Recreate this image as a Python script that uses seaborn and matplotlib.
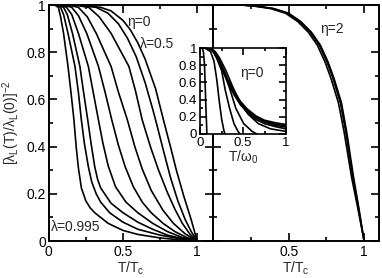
import numpy as np
import pandas as pd
import matplotlib
matplotlib.use("Agg")
import matplotlib.pyplot as plt
import seaborn as sns

# ---------------- data ----------------
# Left panel, eta = 0, curves from lambda=0.995 (index 0) to lambda=0.5 (index 8), x = T/Tc
eta0_x = [
    [0, 0.04, 0.065, 0.08, 0.10, 0.13, 0.15, 0.17, 0.185, 0.20, 0.22, 0.25, 0.28, 0.31, 0.40, 0.50, 0.60, 0.75, 0.90, 1.0],
    [0, 0.05, 0.08, 0.10, 0.13, 0.177, 0.20, 0.22, 0.24, 0.267, 0.29, 0.32, 0.35, 0.41, 0.50, 0.60, 0.75, 0.90, 1.0],
    [0, 0.06, 0.10, 0.125, 0.16, 0.21, 0.235, 0.263, 0.285, 0.31, 0.33, 0.35, 0.42, 0.50, 0.60, 0.70, 0.80, 0.90, 1.0],
    [0, 0.08, 0.12, 0.155, 0.20, 0.267, 0.30, 0.335, 0.365, 0.40, 0.45, 0.52, 0.60, 0.70, 0.80, 0.90, 1.0],
    [0, 0.10, 0.155, 0.20, 0.256, 0.335, 0.38, 0.425, 0.47, 0.515, 0.57, 0.63, 0.69, 0.77, 0.85, 0.93, 1.0],
    [0, 0.13, 0.20, 0.26, 0.32, 0.42, 0.47, 0.53, 0.58, 0.63, 0.69, 0.77, 0.84, 0.92, 1.0],
    [0, 0.17, 0.27, 0.34, 0.42, 0.54, 0.585, 0.63, 0.685, 0.74, 0.80, 0.85, 0.90, 0.95, 1.0],
    [0, 0.20, 0.32, 0.40, 0.47, 0.53, 0.59, 0.65, 0.70, 0.72, 0.77, 0.82, 0.87, 0.92, 0.96, 1.0],
    [0, 0.20, 0.35, 0.42, 0.50, 0.55, 0.60, 0.65, 0.72, 0.773, 0.82, 0.86, 0.91, 0.96, 1.0],
]
eta0_y = [
    [1, 1.0, 0.99, 0.95, 0.88, 0.74, 0.63, 0.513, 0.40, 0.31, 0.225, 0.17, 0.14, 0.12, 0.075, 0.045, 0.028, 0.013, 0.004, 0],
    [1, 1.0, 0.99, 0.96, 0.88, 0.74, 0.63, 0.513, 0.415, 0.315, 0.25, 0.20, 0.165, 0.12, 0.08, 0.05, 0.025, 0.008, 0],
    [1, 1.0, 0.99, 0.96, 0.88, 0.74, 0.63, 0.513, 0.415, 0.315, 0.26, 0.225, 0.16, 0.12, 0.08, 0.05, 0.025, 0.01, 0],
    [1, 1.0, 0.99, 0.96, 0.88, 0.74, 0.63, 0.513, 0.415, 0.32, 0.23, 0.165, 0.12, 0.075, 0.04, 0.015, 0],
    [1, 1.0, 0.99, 0.955, 0.88, 0.74, 0.63, 0.513, 0.405, 0.315, 0.23, 0.165, 0.12, 0.075, 0.04, 0.015, 0],
    [1, 1.0, 0.99, 0.95, 0.88, 0.74, 0.63, 0.513, 0.40, 0.305, 0.215, 0.13, 0.075, 0.03, 0],
    [1, 1.0, 0.99, 0.95, 0.88, 0.74, 0.635, 0.513, 0.40, 0.30, 0.205, 0.135, 0.075, 0.03, 0],
    [1, 1.0, 0.99, 0.965, 0.92, 0.86, 0.78, 0.67, 0.56, 0.513, 0.39, 0.27, 0.17, 0.09, 0.04, 0],
    [1, 1.0, 0.99, 0.975, 0.935, 0.895, 0.84, 0.77, 0.645, 0.513, 0.40, 0.30, 0.19, 0.09, 0],
]

# Right panel, eta = 2
eta2_x = [
    [0, 0.20, 0.29, 0.40, 0.50, 0.58, 0.65, 0.71, 0.76, 0.80, 0.85, 0.885, 0.93, 0.965, 1.0],
    [0, 0.195, 0.285, 0.395, 0.495, 0.574, 0.643, 0.703, 0.753, 0.793, 0.843, 0.879, 0.925, 0.962, 1.0],
    [0, 0.185, 0.275, 0.38, 0.48, 0.56, 0.63, 0.69, 0.74, 0.78, 0.83, 0.868, 0.917, 0.958, 1.0],
]
eta2_y = [
    [1, 1.0, 0.995, 0.985, 0.965, 0.93, 0.885, 0.83, 0.76, 0.69, 0.585, 0.46, 0.27, 0.14, 0],
    [1, 1.0, 0.995, 0.985, 0.965, 0.93, 0.885, 0.83, 0.76, 0.69, 0.585, 0.46, 0.27, 0.14, 0],
    [1, 1.0, 0.995, 0.985, 0.965, 0.93, 0.885, 0.83, 0.76, 0.69, 0.585, 0.46, 0.27, 0.14, 0],
]

# Inset, eta = 0, x = T/omega0
inset_x = [
    [0, 0.08, 0.12, 0.16, 0.21, 0.27, 0.33, 0.40, 0.47, 0.55, 0.65, 0.75, 0.88, 1.0],
    [0, 0.08, 0.12, 0.16, 0.21, 0.27, 0.33, 0.40, 0.47, 0.55, 0.65, 0.75, 0.88, 1.0],
    [0, 0.08, 0.12, 0.16, 0.21, 0.27, 0.33, 0.40, 0.47, 0.55, 0.65, 0.75, 0.88, 1.0],
    [0, 0.08, 0.12, 0.16, 0.21, 0.27, 0.33, 0.40, 0.47, 0.55, 0.65, 0.75, 0.88, 1.0],
    [0, 0.09, 0.14, 0.18, 0.23, 0.30, 0.38, 0.46, 0.56, 0.68, 0.82, 1.0],
    [0, 0.086, 0.132, 0.172, 0.211, 0.277, 0.35, 0.416, 0.508, 0.607, 0.66],
    [0, 0.079, 0.126, 0.158, 0.195, 0.251, 0.293, 0.344, 0.395, 0.442, 0.465],
    [0, 0.058, 0.122, 0.162, 0.194, 0.223, 0.252, 0.278, 0.29],
    [0, 0.018, 0.03, 0.04, 0.052, 0.062, 0.069, 0.077, 0.08],
]
inset_y = [
    [1, 1, 0.99, 0.96, 0.88, 0.75, 0.62, 0.49, 0.38, 0.29, 0.21, 0.16, 0.13, 0.11],
    [1, 1, 0.99, 0.96, 0.875, 0.745, 0.61, 0.48, 0.37, 0.28, 0.20, 0.15, 0.115, 0.095],
    [1, 1, 0.99, 0.955, 0.87, 0.735, 0.60, 0.47, 0.36, 0.27, 0.19, 0.14, 0.10, 0.08],
    [1, 1, 0.99, 0.95, 0.86, 0.72, 0.58, 0.45, 0.34, 0.25, 0.17, 0.12, 0.085, 0.06],
    [1, 1, 0.99, 0.955, 0.88, 0.74, 0.55, 0.38, 0.23, 0.12, 0.06, 0.03],
    [1, 1, 0.99, 0.95, 0.88, 0.74, 0.513, 0.30, 0.12, 0.03, 0],
    [1, 1, 0.99, 0.95, 0.88, 0.74, 0.513, 0.30, 0.12, 0.03, 0],
    [1, 1, 0.96, 0.85, 0.64, 0.39, 0.17, 0.04, 0],
    [1, 1, 0.99, 0.95, 0.81, 0.51, 0.30, 0.09, 0],
]

main_xticks = [0, 0.5, 1]
left_xticklabels = ["0", "0.5", "1"]
right_xticklabels = ["", "0.5", "1"]
main_yticks = [0, 0.2, 0.4, 0.6, 0.8, 1]
main_yticklabels = ["0", "0.2", "0.4", "0.6", "0.8", "1"]
inset_xticks = [0, 0.5, 1]
inset_xticklabels = ["0", "0.5", "1"]


def to_frame(xs, ys):
    rows = []
    for i, (xx, yy) in enumerate(zip(xs, ys)):
        for a, b in zip(xx, yy):
            rows.append((i, a, b))
    return pd.DataFrame(rows, columns=["curve", "x", "y"])


sns.set_theme(style="ticks")
plt.rcParams["font.family"] = ["Liberation Sans", "DejaVu Sans"]
plt.rcParams["mathtext.fontset"] = "custom"
plt.rcParams["mathtext.rm"] = "Liberation Sans"
plt.rcParams["mathtext.it"] = "Liberation Sans"

fig = plt.figure(figsize=(3.82, 2.78), dpi=100)
axL = fig.add_axes([0.1275, 0.133, 0.4306, 0.849])
axR = fig.add_axes([0.5581, 0.133, 0.4346, 0.849])
axI = fig.add_axes([0.5236, 0.518, 0.2251, 0.309])

LW = 1.2
kw = dict(x="x", y="y", units="curve", estimator=None, color="black",
          linewidth=LW, legend=False, sort=False)
sns.lineplot(data=to_frame(eta0_x, eta0_y), ax=axL, **kw)
sns.lineplot(data=to_frame(eta2_x, eta2_y), ax=axR, **kw)
sns.lineplot(data=to_frame(inset_x, inset_y), ax=axI, **kw)

for ax in (axL, axR, axI):
    for s in ax.spines.values():
        s.set_linewidth(1.4 if ax is not axI else 1.2)
        s.set_visible(True)
        s.set_color("black")
    ax.tick_params(which="both", direction="in", top=True, right=True,
                   color="black", labelcolor="black")
    ax.tick_params(which="major", length=6, width=1.2, labelsize=10)
    ax.tick_params(which="minor", length=3, width=1.2)

axL.set_xlim(0, 1.108)
axR.set_xlim(0, 1.1)
for ax in (axL, axR):
    ax.set_ylim(0, 1)
    ax.set_yticks(main_yticks)
    ax.set_yticks([0.1, 0.3, 0.5, 0.7, 0.9], minor=True)
    ax.set_xticks([0.25, 0.75], minor=True)
axL.set_xticks(main_xticks, left_xticklabels)
axR.set_xticks(main_xticks, right_xticklabels)
axL.set_yticklabels(main_yticklabels)
axR.set_yticklabels([""] * len(main_yticks))
axL.tick_params(axis="y", pad=2)
axL.tick_params(axis="x", pad=3)
axR.tick_params(axis="x", pad=3)

axL.set_xlabel(r"$\mathregular{T/T_c}$", fontsize=10, labelpad=0)
axR.set_xlabel(r"$\mathregular{T/T_c}$", fontsize=10, labelpad=0)
axL.set_ylabel(r"$\mathregular{[\lambda_L(T)/\lambda_L(0)]^{-2}}$", fontsize=10, labelpad=3)
axR.set_ylabel("")

axL.text(0.53, 0.928, "η=0", fontsize=10, va="center", ha="left")
axL.text(0.617, 0.835, "λ=0.5", fontsize=10, va="center", ha="left")
axL.text(0.016, 0.06, "λ=0.995", fontsize=10, va="center", ha="left")
axR.text(0.707, 0.90, "η=2", fontsize=10, va="center", ha="left")

# inset
axI.set_facecolor("white")
axI.set_xlim(0, 1)
axI.set_ylim(0, 1)
axI.set_xticks(inset_xticks, inset_xticklabels)
axI.set_xticks([0.25, 0.75], minor=True)
axI.set_yticks(main_yticks, main_yticklabels)
axI.set_yticks([0.1, 0.3, 0.5, 0.7, 0.9], minor=True)
axI.tick_params(which="major", length=5, labelsize=9.5, pad=2)
axI.tick_params(which="minor", length=2.5)
axI.set_xlabel(r"$\mathregular{T/\omega_0}$", fontsize=10, labelpad=0)
axI.set_ylabel("")
axI.text(0.465, 0.71, "η=0", fontsize=10, va="center", ha="left")

fig.savefig("out.png", dpi=100)
